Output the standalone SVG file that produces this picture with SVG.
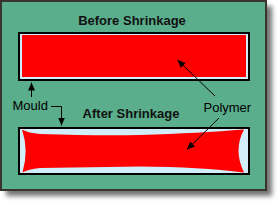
<svg xmlns="http://www.w3.org/2000/svg" width="277" height="201" viewBox="0 0 277 201">
<style>
.t{font-family:"Liberation Sans",Arial,sans-serif;font-size:13px;fill:#000}
.b{font-weight:bold;fill:#111}
.mould{fill:#d2eefa;stroke:#000;stroke-width:2}
.ln{stroke:#000;stroke-width:1;fill:none}
</style>
<defs>
<filter id="sh" x="-10%" y="-10%" width="130%" height="130%"><feGaussianBlur stdDeviation="2.5"/></filter>
<marker id="ah" viewBox="0 0 8 8" refX="8" refY="4" markerWidth="8" markerHeight="8" markerUnits="userSpaceOnUse" orient="auto"><path d="M0,0.5 L8,4 L0,7.5 Z" fill="#000"/></marker>
</defs>
<rect x="6" y="6" width="266" height="190" fill="#000" opacity="0.55" filter="url(#sh)"/>
<rect id="panel" x="1" y="1" width="265" height="189" fill="#5aae8c" stroke="#3a3430" stroke-width="2"/>
<g id="before">
<text class="t b" x="132" y="25" text-anchor="middle">Before Shrinkage</text>
<rect class="mould" x="19" y="33" width="230" height="47"/>
<rect x="22" y="35" width="224" height="42" fill="#ff0000"/>
</g>
<g id="after">
<text class="t b" x="131" y="118" text-anchor="middle">After Shrinkage</text>
<rect class="mould" x="19" y="128" width="230" height="46"/>
<path d="M22,129.5 Q28,133 40,134 Q100,136 140,135 Q200,133 244,129.5 Q233,150 244,172.5 Q200,167 140,166.5 Q90,167 40,168 Q28,169 22.5,172.5 Q29,150 22,129.5 Z" fill="#ff0000"/>
</g>
<g id="mould-label"><text class="t" x="12.5" y="110">Mould</text></g>
<g id="polymer-label"><text class="t" x="203.5" y="111.5">Polymer</text></g>
<g id="connectors">
<path class="ln" d="M31.5,97 L31.5,82.5" marker-end="url(#ah)"/>
<path class="ln" d="M51,106.5 L61.5,106.5 L61.5,125.5" marker-end="url(#ah)"/>
<path class="ln" d="M215,96 L177.5,60" marker-end="url(#ah)"/>
<path class="ln" d="M219,118 L187,149.5" marker-end="url(#ah)"/>
</g>
</svg>
